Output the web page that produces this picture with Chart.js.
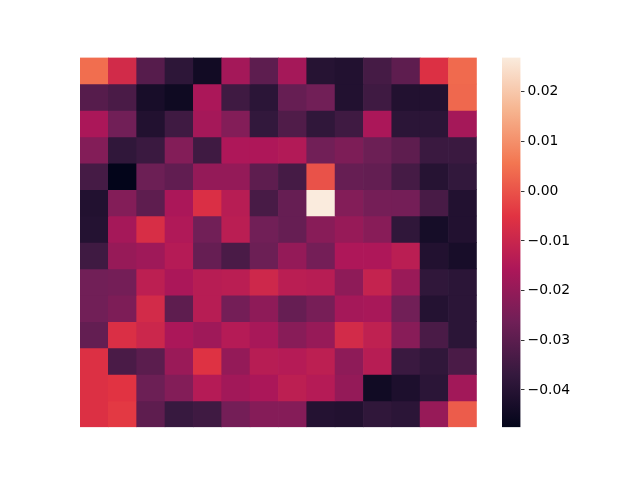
<!DOCTYPE html>
<html>
<head>
<meta charset="utf-8">
<script src="https://cdn.jsdelivr.net/npm/chart.js@4/dist/chart.umd.min.js"></script>
<style>
  html, body { margin: 0; padding: 0; background: #ffffff; }
  #wrap { position: relative; width: 640px; height: 480px; background: #ffffff; }
  canvas { position: absolute; top: 0; }
  #heat { left: 0; }
  #cbar { left: 502px; }
</style>
</head>
<body>
<div id="wrap">
  <canvas id="heat" width="640" height="480"></canvas>
  <canvas id="cbar" width="80" height="480"></canvas>
</div>
<script>
// ---- data ----
const colLabels = ['0','1','2','3','4','5','6','7','8','9','10','11','12','13'];
const rowLabels = ['0','1','2','3','4','5','6','7','8','9','10','11','12','13'];
const cbarTicks = [-0.04, -0.03, -0.02, -0.01, 0.00, 0.01, 0.02];
const values = [
  [ 0.0044,-0.0082,-0.0310,-0.0385,-0.0444,-0.0171,-0.0296,-0.0170,-0.0400,-0.0410,-0.0340,-0.0295,-0.0060, 0.0037],
  [-0.0310,-0.0330,-0.0430,-0.0450,-0.0160,-0.0350,-0.0390,-0.0280,-0.0260,-0.0410,-0.0350,-0.0410,-0.0410, 0.0035],
  [-0.0160,-0.0260,-0.0410,-0.0350,-0.0170,-0.0230,-0.0375,-0.0320,-0.0380,-0.0350,-0.0160,-0.0390,-0.0390,-0.0170],
  [-0.0230,-0.0380,-0.0360,-0.0230,-0.0350,-0.0155,-0.0155,-0.0145,-0.0260,-0.0240,-0.0270,-0.0295,-0.0360,-0.0360],
  [-0.0340,-0.0475,-0.0270,-0.0290,-0.0200,-0.0200,-0.0295,-0.0340, 0.0000,-0.0280,-0.0285,-0.0340,-0.0400,-0.0375],
  [-0.0410,-0.0230,-0.0295,-0.0160,-0.0065,-0.0135,-0.0335,-0.0280, 0.0269,-0.0230,-0.0253,-0.0255,-0.0335,-0.0410],
  [-0.0405,-0.0170,-0.0070,-0.0150,-0.0260,-0.0130,-0.0260,-0.0280,-0.0220,-0.0195,-0.0220,-0.0380,-0.0435,-0.0410],
  [-0.0350,-0.0195,-0.0180,-0.0140,-0.0280,-0.0330,-0.0270,-0.0200,-0.0255,-0.0155,-0.0155,-0.0130,-0.0410,-0.0430],
  [-0.0260,-0.0255,-0.0125,-0.0160,-0.0135,-0.0130,-0.0090,-0.0130,-0.0135,-0.0210,-0.0110,-0.0190,-0.0380,-0.0390],
  [-0.0260,-0.0240,-0.0080,-0.0295,-0.0135,-0.0255,-0.0210,-0.0280,-0.0250,-0.0170,-0.0165,-0.0260,-0.0405,-0.0390],
  [-0.0285,-0.0065,-0.0095,-0.0160,-0.0180,-0.0140,-0.0165,-0.0220,-0.0195,-0.0080,-0.0120,-0.0220,-0.0330,-0.0390],
  [-0.0060,-0.0330,-0.0300,-0.0190,-0.0055,-0.0200,-0.0135,-0.0140,-0.0125,-0.0210,-0.0135,-0.0360,-0.0380,-0.0330],
  [-0.0060,-0.0050,-0.0270,-0.0230,-0.0140,-0.0175,-0.0160,-0.0125,-0.0140,-0.0200,-0.0445,-0.0420,-0.0390,-0.0175],
  [-0.0060,-0.0040,-0.0295,-0.0365,-0.0350,-0.0255,-0.0225,-0.0225,-0.0405,-0.0410,-0.0380,-0.0390,-0.0195, 0.0015]
];

// ---- colormap (seaborn "rocket") ----
const rocketStops = [
  [0.0000, [3, 5, 26]],
  [0.1429, [53, 25, 62]],
  [0.2857, [112, 31, 87]],
  [0.4286, [173, 23, 89]],
  [0.5714, [225, 51, 66]],
  [0.7143, [243, 118, 81]],
  [0.8571, [246, 180, 143]],
  [1.0000, [250, 235, 221]]
];
function rocket(t) {
  t = Math.max(0, Math.min(1, t));
  for (let i = 1; i < rocketStops.length; i++) {
    const [t1, c1] = rocketStops[i];
    const [t0, c0] = rocketStops[i - 1];
    if (t <= t1) {
      const f = (t - t0) / (t1 - t0);
      const c = c0.map((v, k) => Math.round(v + (c1[k] - v) * f));
      return `rgb(${c[0]},${c[1]},${c[2]})`;
    }
  }
  return 'rgb(250,235,221)';
}
const flat = values.flat();
const vmin = Math.min(...flat);
const vmax = Math.max(...flat);
const norm = v => (v - vmin) / (vmax - vmin);

// ---- heatmap ----
const heatDatasets = rowLabels.map((r, ri) => ({
  label: r,
  data: colLabels.map(() => [ri, ri + 1]),
  backgroundColor: values[ri].map(v => rocket(norm(v))),
  borderWidth: 0,
  barPercentage: 1,
  categoryPercentage: 1
}));

new Chart(document.getElementById('heat'), {
  type: 'bar',
  data: { labels: colLabels, datasets: heatDatasets },
  options: {
    responsive: false,
    animation: false,
    events: [],
    layout: { padding: { left: 80, right: 163.2, top: 57.6, bottom: 52.8 } },
    plugins: { legend: { display: false }, tooltip: { enabled: false } },
    scales: {
      x: { display: false, stacked: true, offset: true },
      y: { display: false, stacked: false, reverse: true, min: 0, max: rowLabels.length }
    }
  }
});

// ---- colorbar ----
const cbFont = { family: 'DejaVu Sans', size: 13.9 };
new Chart(document.getElementById('cbar'), {
  type: 'bar',
  data: {
    labels: ['cbar'],
    datasets: [{
      data: [[vmin, vmax]],
      borderWidth: 0,
      barPercentage: 1,
      categoryPercentage: 1,
      backgroundColor: (ctx) => {
        const chart = ctx.chart;
        const area = chart.chartArea;
        if (!area) return 'rgba(0,0,0,0)';
        const g = chart.ctx.createLinearGradient(0, area.bottom, 0, area.top);
        rocketStops.forEach(([t, c]) => g.addColorStop(t, `rgb(${c[0]},${c[1]},${c[2]})`));
        return g;
      }
    }]
  },
  options: {
    responsive: false,
    animation: false,
    events: [],
    layout: { padding: { left: 0, right: 0, top: 57.6, bottom: 52.8 } },
    plugins: { legend: { display: false }, tooltip: { enabled: false } },
    scales: {
      x: { display: false, offset: true },
      y: {
        position: 'right',
        min: vmin,
        max: vmax,
        afterBuildTicks: (scale) => { scale.ticks = cbarTicks.map(v => ({ value: v })); },
        afterFit: (scale) => { scale.width = 61.5; },
        border: { display: false },
        grid: { drawOnChartArea: false, drawTicks: true, tickLength: 4, color: '#000000', tickWidth: 0.8 },
        ticks: {
          color: '#000000',
          font: cbFont,
          padding: 3,
          callback: (v) => {
            const s = Number(v).toFixed(2);
            return s.replace('-', '\u2212');
          }
        }
      }
    }
  }
});
</script>
</body>
</html>
